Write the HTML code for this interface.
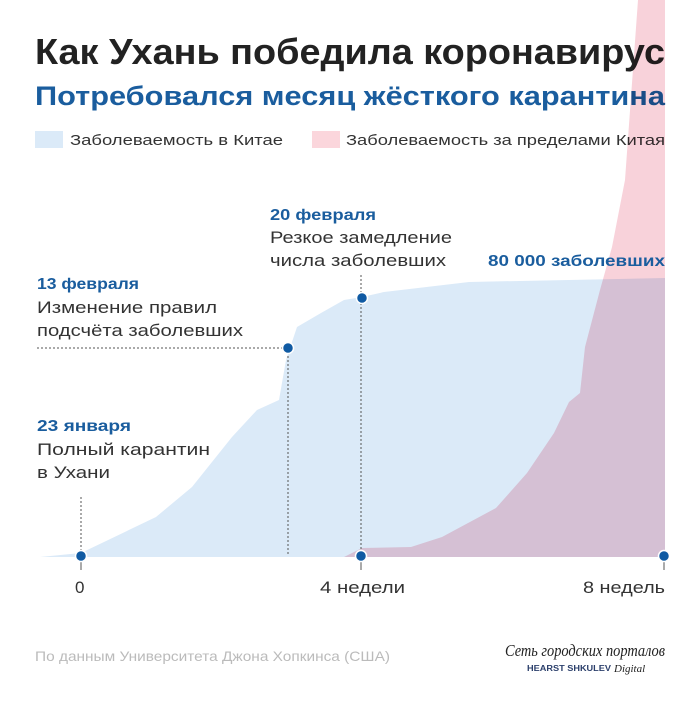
<!DOCTYPE html>
<html><head><meta charset="utf-8"><style>
body{margin:0;background:#fff}
svg text{font-family:"Liberation Sans",sans-serif}
</style></head><body>
<svg width="700" height="700" viewBox="0 0 700 700" xmlns="http://www.w3.org/2000/svg">
<rect width="700" height="700" fill="#fff"/>
<text x="35" y="64" font-size="36" font-weight="bold" fill="#222" textLength="630" lengthAdjust="spacingAndGlyphs">Как Ухань победила коронавирус</text>
<text x="35" y="105" font-size="27" font-weight="bold" fill="#1a5d9e" textLength="630" lengthAdjust="spacingAndGlyphs">Потребовался месяц жёсткого карантина</text>
<rect x="35" y="131" width="28" height="17" fill="#dbeaf8"/>
<text x="70" y="145" font-size="15" fill="#333" textLength="213" lengthAdjust="spacingAndGlyphs">Заболеваемость в Китае</text>
<rect x="312" y="131" width="28" height="17" fill="#fbd6dc"/>
<text x="346" y="145" font-size="15" fill="#333" textLength="319" lengthAdjust="spacingAndGlyphs">Заболеваемость за пределами Китая</text>
<path d="M40,557 L81,553 L156,517 L192,487 L232,437 L257,410 L279,400 L286,360 L297,327 L321,313 L344,300 L362,297 L384,292 L469,282 L665,278 L665,557 Z" fill="#dbeaf8"/>
<path d="M344,557 L362,548 L411,547 L442,537 L496,508 L527,473 L554,433 L569,402 L580,393 L585,347 L600,290 L612,247 L625,180 L638,0 L665,0 L665,557 Z" fill="#f8d2da" style="mix-blend-mode:multiply"/>
<g stroke="#555" stroke-width="1" stroke-dasharray="2,2" fill="none">
<line x1="81" y1="497" x2="81" y2="556"/>
<line x1="37" y1="348" x2="288" y2="348"/>
<line x1="288" y1="348" x2="288" y2="556"/>
<line x1="361" y1="275" x2="361" y2="556"/>
</g>
<g stroke="#555" stroke-width="1"><line x1="81" y1="557" x2="81" y2="570"/><line x1="361" y1="557" x2="361" y2="570"/><line x1="664" y1="557" x2="664" y2="570"/></g>
<g fill="#0f5aa3" stroke="#fff" stroke-width="1.5">
<circle cx="81" cy="556" r="5.5"/><circle cx="361" cy="556" r="5.5"/><circle cx="664" cy="556" r="5.5"/>
<circle cx="288" cy="348" r="5.5"/><circle cx="362" cy="298" r="5.5"/></g>
<g font-size="17" fill="#333">
<text x="75" y="593">0</text>
<text x="320" y="593" textLength="85" lengthAdjust="spacingAndGlyphs">4 недели</text>
<text x="583" y="593" textLength="82" lengthAdjust="spacingAndGlyphs">8 недель</text>
<text x="37" y="455" textLength="173" lengthAdjust="spacingAndGlyphs">Полный карантин</text>
<text x="37" y="478" textLength="73" lengthAdjust="spacingAndGlyphs">в Ухани</text>
<text x="37" y="313" textLength="180" lengthAdjust="spacingAndGlyphs">Изменение правил</text>
<text x="37" y="336" textLength="206" lengthAdjust="spacingAndGlyphs">подсчёта заболевших</text>
<text x="270" y="243" textLength="182" lengthAdjust="spacingAndGlyphs">Резкое замедление</text>
<text x="270" y="266" textLength="176" lengthAdjust="spacingAndGlyphs">числа заболевших</text>
</g>
<g font-size="16" font-weight="bold" fill="#1a5d9e">
<text x="37" y="431" textLength="94" lengthAdjust="spacingAndGlyphs">23 января</text>
<text x="37" y="289" textLength="102" lengthAdjust="spacingAndGlyphs">13 февраля</text>
<text x="270" y="220" textLength="106" lengthAdjust="spacingAndGlyphs">20 февраля</text>
<text x="488" y="266" textLength="177" lengthAdjust="spacingAndGlyphs">80 000 заболевших</text>
</g>
<text x="35" y="661" font-size="14" fill="#bbb" textLength="355" lengthAdjust="spacingAndGlyphs">По данным Университета Джона Хопкинса (США)</text>
<text x="505" y="656" font-size="17" font-style="italic" fill="#222" font-family="Liberation Serif,serif" style="font-family:'Liberation Serif',serif" textLength="160" lengthAdjust="spacingAndGlyphs">Сеть городских порталов</text>
<text x="527" y="671" font-size="8" font-weight="bold" fill="#2b3f6b" textLength="84" lengthAdjust="spacingAndGlyphs">HEARST SHKULEV</text>
<text x="614" y="672" font-size="11" font-style="italic" fill="#222" style="font-family:'Liberation Serif',serif">Digital</text>
</svg>
</body></html>
